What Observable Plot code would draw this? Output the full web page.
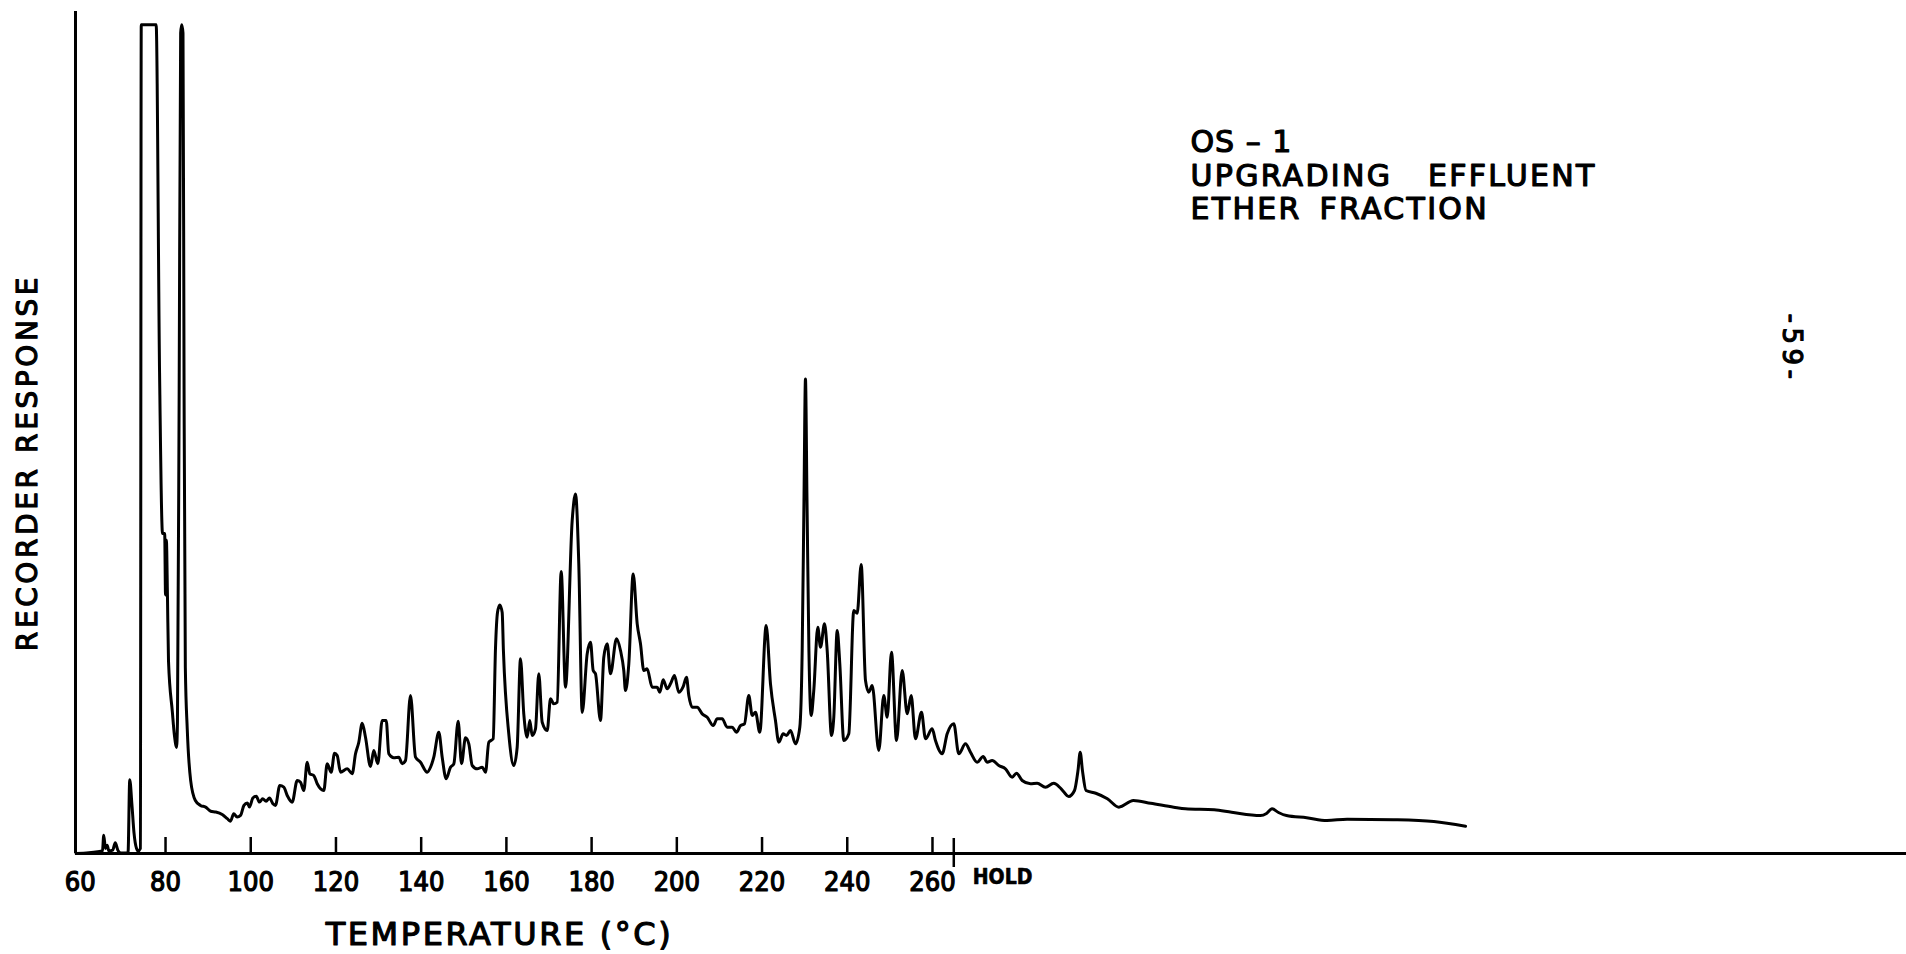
<!DOCTYPE html>
<html>
<head>
<meta charset="utf-8">
<script src="https://cdn.jsdelivr.net/npm/d3@7"></script>
<script src="https://cdn.jsdelivr.net/npm/@observablehq/plot@0.6"></script>
<style>
  html, body { margin: 0; padding: 0; background: #fff; }
  #chart svg { display: block; }
  #chart svg text { white-space: pre; }
  text[aria-label="y-title"] { letter-spacing: 3.6px; }
  text[aria-label="x-title"] { letter-spacing: 2.6px; }
  text[aria-label="note"] { letter-spacing: 2.3px; word-spacing: 6px; }
  text[aria-label="note"] tspan:first-child { letter-spacing: 1px; word-spacing: 0px; }
  text[aria-label="page-number"] { letter-spacing: 4.5px; }
</style>
</head>
<body>
<div id="chart"></div>
<script>
// ---- Data (temperature °C, recorder response in % of full scale) ----
const temps = [
  59.0, 62.0, 64.5, 65.2, 65.5, 65.9, 66.3, 66.7, 67.6, 68.2, 68.8, 69.5, 71.2, 71.6, 72.1, 72.6, 73.2, 73.6, 74.1,
  74.3, 77.8, 78.6, 79.3, 79.8, 80.0, 80.2, 80.45, 80.7, 81.6, 82.1, 82.6, 82.8, 83.2, 83.55, 83.8, 84.1, 84.35, 84.65,
  85.1, 85.9, 87.0, 88.2, 89.4, 90.6, 91.8, 93.3, 94.5, 95.25, 96.0, 96.8, 97.6, 98.4, 99.2, 99.7, 100.5, 101.3,
  102.05, 102.8, 103.6, 104.4, 105.2, 105.8, 106.82, 107.76, 108.56, 109.73, 110.9, 111.68, 112.45, 113.25, 113.86,
  114.8, 115.6, 117.15, 117.94, 118.88, 119.66, 120.29, 121.07, 122.64, 123.81, 124.59, 125.36, 126.16, 126.93,
  128.11, 128.88, 129.82, 130.85, 131.79, 132.4, 133.57, 134.75, 135.55, 136.32, 137.49, 138.67, 139.84, 141.41,
  142.19, 142.96, 144.14, 144.93, 145.87, 146.88, 147.66, 148.69, 149.46, 150.4, 151.18, 151.97, 153.15, 154.32,
  155.1, 155.87, 156.9, 157.44, 157.91, 158.45, 159.01, 159.3, 160.56, 161.74, 162.53, 163.31, 164.08, 164.88,
  165.49, 166.05, 166.83, 167.6, 168.4, 169.58, 170.35, 171.13, 171.92, 172.86, 173.87, 175.44, 176.22, 176.99,
  177.79, 178.96, 179.74, 180.37, 180.91, 182.08, 182.86, 183.66, 184.43, 185.84, 186.78, 187.55, 187.95, 188.73,
  189.76, 190.7, 191.47, 192.25, 193.03, 194.21, 195.38, 196.0, 196.8, 197.74, 198.51, 199.45, 200.46, 201.49,
  202.27, 202.81, 203.61, 204.78, 205.95, 207.13, 208.53, 209.47, 210.64, 211.82, 212.99, 214.0, 214.94, 215.88,
  216.89, 217.69, 218.46, 219.47, 220.97, 221.98, 223.15, 223.93, 224.96, 225.74, 226.68, 227.85, 228.86, 229.42,
  229.84, 230.19, 230.55, 231.0, 231.53, 232.14, 233.08, 233.72, 234.66, 235.29, 236.3, 236.84, 237.64, 238.25,
  239.19, 240.36, 241.53, 242.33, 243.27, 244.28, 245.05, 245.85, 247.4, 248.57, 249.37, 250.38, 251.56, 252.89,
  254.07, 255.0, 256.01, 257.42, 258.36, 259.93, 260.7, 262.28, 263.45, 265.0, 266.17, 267.75, 268.92, 270.49,
  271.9, 272.84, 274.01, 275.56, 277.13, 278.71, 279.72, 281.05, 283.0, 284.57, 286.52, 288.45, 290.21, 291.97,
  293.33, 294.15, 294.67, 295.2, 296.03, 298.33, 301.05, 303.75, 307.15, 311.21, 316.63, 319.36, 326.14, 330.2,
  336.98, 338.4, 339.7, 341.2, 343.08, 347.82, 352.58, 357.32, 368.16, 377.67, 385.11
];
const response = [
  0.0, 0.1, 0.25, 0.3, 2.2, 0.6, 1.0, 0.3, 0.4, 1.3, 0.4, 0.05, 0.1, 8.9, 6.0, 2.5, 0.6, 0.3, 0.6,
  100, 100, 58, 38.6, 38.6, 31.2, 37.8, 31.2, 23.2, 17.1, 14.2, 12.8, 16, 56, 99, 100, 99, 56, 22.4,
  15, 8.8, 6.4, 5.8, 5.6, 5.1, 5.0, 4.7, 4.2, 3.9, 4.8, 4.4, 4.6, 5.8, 6.1, 5.6, 6.7, 6.9,
  6.2, 6.6, 6.3, 6.7, 6.0, 5.8, 8.2, 8.0, 7.0, 6.19, 8.81, 8.6, 7.6, 11.01, 9.62,
  9.41, 8.41, 7.6, 10.82, 9.81, 12.1, 11.82, 9.81, 10.22, 9.62, 12.03, 13.43, 15.72, 14.03,
  10.5, 12.43, 10.82, 16.05, 16.05, 12.03, 11.55, 11.62, 10.82, 11.22, 19.06, 11.62, 11.01, 9.81,
  10.41, 11.62, 14.63, 11.62, 9.01, 10.41, 10.82, 15.96, 10.82, 13.96, 13.23, 10.62, 10.22, 10.41,
  9.81, 13.43, 13.84, 24.73, 29.07, 30.0, 29.07, 24.5, 14.44, 10.62, 12.82, 23.49, 16.85, 14.03,
  16.05, 14.24, 15.04, 21.68, 15.84, 14.84, 18.66, 18.06, 18.25, 34.02, 20.06, 40.17, 43.39, 34.95,
  17.01, 24.09, 25.49, 22.08, 21.68, 16.05, 23.68, 25.3, 21.68, 25.9, 24.49, 22.08, 19.66, 22.89,
  33.74, 27.71, 25.3, 22.08, 22.28, 20.06, 20.06, 19.46, 20.96, 19.87, 20.47, 21.47, 19.46, 20.15,
  21.27, 19.06, 17.65, 17.65, 16.85, 16.44, 15.44, 16.25, 16.25, 15.24, 15.24, 14.63, 15.44, 15.65,
  19.06, 16.65, 17.05, 14.63, 27.51, 20.47, 16.05, 13.43, 14.44, 14.24, 14.84, 13.23, 15.24, 24.49,
  42.59, 57.27, 42.59, 24.5, 16.65, 19.66, 27.3, 24.89, 27.71, 24.49, 14.24, 16.44, 26.9, 22.89,
  13.63, 14.44, 29.32, 28.99, 34.87, 20.87, 19.46, 20.27, 12.43, 19.06, 16.44, 24.28, 13.63, 22.08,
  16.85, 19.06, 13.84, 17.05, 13.84, 15.04, 13.63, 12.03, 14.44, 15.65, 12.03, 13.23, 12.22, 11.01,
  11.7, 11.01, 11.22, 10.62, 10.22, 9.21, 9.69, 8.81, 8.41, 8.48, 8.0, 8.48, 7.81, 6.88,
  7.6, 10.01, 12.22, 10.0, 7.6, 7.27, 6.6, 5.59, 6.39, 6.07, 5.59, 5.39, 5.27, 4.98,
  4.58, 4.83, 5.39, 4.95, 4.58, 4.31, 3.98, 4.14, 4.07, 3.86, 3.29
];

// Axis values
const tickTemps = [80, 100, 120, 140, 160, 180, 200, 220, 240, 260];
const tickLabels = [60, 80, 100, 120, 140, 160, 180, 200, 220, 240, 260];
const holdTemp = 265;
const holdLabel = "HOLD";
const xTitle = "TEMPERATURE (°C)";
const yTitle = "RECORDER RESPONSE";
const noteLines = ["OS – 1", "UPGRADING  EFFLUENT", "ETHER FRACTION"];
const pageNumber = "-59-";

// Scale extents
const xDomain = [58.87, 488.6];
const yDomain = [0, 101.6];

const data = temps.map((t, i) => ({temp: t, resp: response[i]}));

const W = 1906, H = 954;
const mTop = 11, mBottom = 101, mLeft = 75, mRight = 0;
const frameH = H - mTop - mBottom;

const condensed = "'DejaVu Sans Condensed', 'Liberation Sans Narrow', 'Roboto Condensed', sans-serif";
const plain = "'DejaVu Sans', 'Liberation Sans', sans-serif";
const ink = "#000";
const textStyle = {fill: ink, stroke: ink, strokeWidth: 1.2};

const chart = Plot.plot({
  width: W,
  height: H,
  marginTop: mTop,
  marginBottom: mBottom,
  marginLeft: mLeft,
  marginRight: mRight,
  style: {background: "#fff", color: ink, overflow: "visible"},
  x: {domain: xDomain, axis: null},
  y: {domain: yDomain, axis: null},
  marks: [
    // baseline and vertical axis line
    Plot.ruleY([0], {stroke: ink, strokeWidth: 3}),
    Plot.ruleX([xDomain[0]], {stroke: ink, strokeWidth: 3}),
    // temperature ticks (pointing up from the baseline)
    Plot.ruleX(tickTemps, {stroke: ink, strokeWidth: 2.5, insetTop: frameH - 16}),
    Plot.ruleX([holdTemp], {stroke: ink, strokeWidth: 2.5, insetTop: frameH - 15, insetBottom: -14}),
    // tick labels
    Plot.text(tickLabels, {
      x: d => d, text: d => String(d), frameAnchor: "bottom", dy: 37,
      fontSize: 27, fontFamily: condensed, ...textStyle
    }),
    Plot.text([holdLabel], {
      x: () => holdTemp, text: d => d, frameAnchor: "bottom", dx: 19, dy: 30,
      textAnchor: "start", fontSize: 21, fontWeight: "bold", fontFamily: condensed, fill: ink, stroke: ink, strokeWidth: 0.6
    }),
    // the chromatogram trace
    Plot.line(data, {x: "temp", y: "resp", stroke: ink, strokeWidth: 3, curve: "monotone-x", strokeLinejoin: "round"}),
    // axis titles
    Plot.text([xTitle], {
      frameAnchor: "bottom-left", dx: 424, dy: 91, textAnchor: "middle",
      fontSize: 32, fontFamily: plain, ...textStyle, ariaLabel: () => "x-title"
    }),
    Plot.text([yTitle], {
      frameAnchor: "left", dx: -47, dy: 30, rotate: -90, textAnchor: "middle",
      fontSize: 28, fontFamily: plain, ...textStyle, ariaLabel: () => "y-title"
    }),
    // sample annotation
    Plot.text([noteLines.join("\n")], {
      frameAnchor: "top-left", dx: 1115, dy: 117, textAnchor: "start", lineAnchor: "top",
      lineHeight: 1.113, fontSize: 30, fontFamily: plain, ...textStyle, ariaLabel: () => "note"
    }),
    // page number (rotated)
    Plot.text([pageNumber], {
      frameAnchor: "top-right", dx: -105, dy: 337, rotate: 90, textAnchor: "middle",
      fontSize: 26, fontFamily: plain, ...textStyle, ariaLabel: () => "page-number"
    })
  ]
});

document.getElementById("chart").appendChild(chart);
</script>
</body>
</html>
